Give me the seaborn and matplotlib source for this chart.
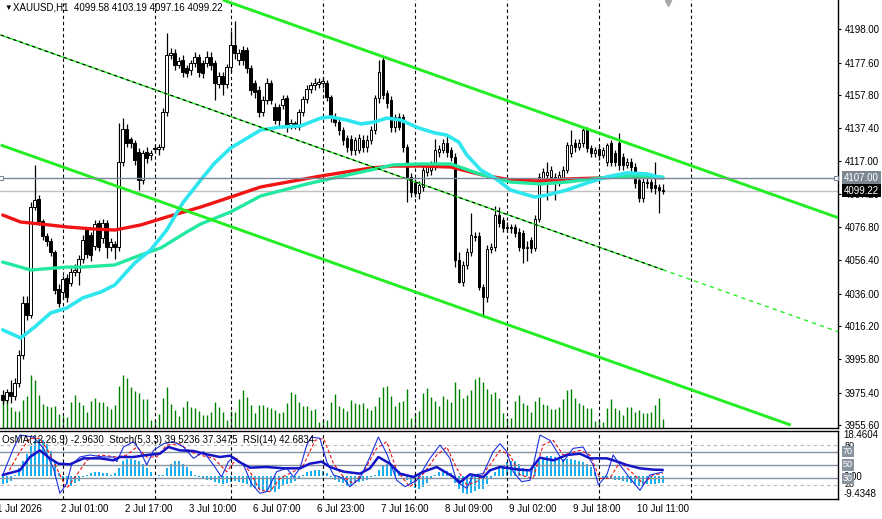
import numpy as np
import matplotlib
matplotlib.use("Agg")
import matplotlib.pyplot as plt
import matplotlib.transforms as mtransforms
import seaborn as sns

sns.set_theme(style="white")
plt.rcParams['font.family'] = ['Liberation Sans', 'DejaVu Sans']
plt.rcParams['axes.linewidth'] = 0.8

# ---------------- XAUUSD H1 bars ----------------
opens = [3973.9, 3970.9, 3975.8, 3973.3, 3981.3, 3998.4, 4030.3, 4023.0, 4089.1, 4094.0,
         4080.5, 4071.4, 4068.3, 4061.6, 4038.9, 4037.0, 4045.6, 4042.5, 4049.3, 4049.3,
         4057.3, 4075.6, 4072.0, 4065.2, 4079.3, 4070.1, 4079.3, 4064.6, 4066.5, 4064.6,
         4116.7, 4136.9, 4130.8, 4128.3, 4122.8, 4105.7, 4122.8, 4121.0, 4124.6, 4124.6,
         4125.9, 4147.3, 4182.3, 4183.5, 4176.1, 4179.2, 4174.3, 4173.1, 4177.3, 4181.0,
         4177.3, 4177.3, 4181.0, 4177.3, 4164.5, 4169.4, 4164.5, 4174.9, 4188.4, 4179.2,
         4185.3, 4185.3, 4174.3, 4165.1, 4160.8, 4147.3, 4154.7, 4165.1, 4150.4, 4150.4,
         4151.6, 4155.9, 4139.3, 4140.6, 4138.1, 4147.3, 4155.3, 4161.4, 4163.9, 4164.5,
         4165.1, 4165.1, 4156.5, 4144.3, 4141.2, 4136.3, 4131.4, 4130.8, 4124.0, 4124.0,
         4130.2, 4125.9, 4130.2, 4136.3, 4155.9, 4179.2, 4159.0, 4154.7, 4138.1, 4144.3,
         4144.3, 4126.0, 4107.5, 4103.8, 4097.7, 4101.4, 4110.6, 4111.8, 4114.8, 4122.8,
         4124.0, 4128.3, 4124.0, 4119.7, 4056.7, 4043.2, 4053.6, 4061.6, 4070.8, 4071.4,
         4040.1, 4034.0, 4063.4, 4064.6, 4084.2, 4081.2, 4076.3, 4076.9, 4076.9, 4073.8,
         4073.2, 4064.0, 4068.9, 4064.0, 4081.8, 4105.7, 4108.7, 4107.5, 4107.5, 4104.4,
         4106.9, 4111.8, 4122.2, 4128.3, 4125.9, 4128.3, 4136.3, 4125.3, 4122.2, 4124.6,
         4121.0, 4116.7, 4128.3, 4122.2, 4128.3, 4119.7, 4114.8, 4116.7, 4113.6, 4105.7,
         4094.6, 4104.4, 4104.4, 4102.6, 4101.4, 4099.58]
highs = [3977.0, 3977.6, 3983.2, 3984.4, 4001.5, 4034.6, 4034.6, 4092.0, 4114.8, 4096.4,
         4082.0, 4073.0, 4070.0, 4063.0, 4042.0, 4047.0, 4048.0, 4052.0, 4054.0, 4060.0,
         4072.0, 4077.0, 4074.0, 4081.0, 4081.0, 4082.0, 4081.0, 4070.0, 4068.0, 4140.6,
         4143.7, 4140.0, 4132.0, 4130.0, 4125.0, 4124.0, 4126.0, 4124.0, 4127.0, 4128.0,
         4150.0, 4195.7, 4186.5, 4186.0, 4181.0, 4182.0, 4176.0, 4179.0, 4184.0, 4183.0,
         4179.0, 4185.0, 4184.0, 4179.0, 4172.0, 4172.0, 4177.0, 4197.0, 4203.0, 4186.0,
         4188.0, 4187.0, 4176.0, 4167.0, 4163.0, 4157.0, 4168.0, 4167.0, 4153.0, 4152.0,
         4158.0, 4158.0, 4143.0, 4142.0, 4149.0, 4157.0, 4164.0, 4166.0, 4168.0, 4168.0,
         4168.5, 4167.0, 4158.0, 4147.0, 4143.0, 4138.0, 4133.0, 4133.0, 4132.0, 4134.0,
         4133.0, 4133.0, 4139.0, 4158.0, 4179.2, 4181.0, 4161.0, 4157.0, 4146.0, 4147.0,
         4146.0, 4128.0, 4110.0, 4106.0, 4105.0, 4114.0, 4116.0, 4117.0, 4130.8, 4127.0,
         4131.0, 4133.2, 4126.0, 4122.0, 4061.6, 4056.0, 4064.0, 4085.4, 4074.0, 4074.0,
         4042.0, 4066.0, 4067.0, 4090.0, 4089.0, 4083.0, 4080.0, 4079.0, 4079.0, 4076.0,
         4075.0, 4068.0, 4071.0, 4084.0, 4110.0, 4113.0, 4116.7, 4114.0, 4110.0, 4111.0,
         4114.0, 4129.0, 4136.3, 4131.0, 4131.0, 4137.5, 4138.0, 4127.0, 4126.0, 4127.0,
         4126.0, 4128.3, 4130.0, 4124.0, 4134.5, 4122.0, 4119.0, 4119.0, 4116.0, 4108.0,
         4107.0, 4107.0, 4106.0, 4116.7, 4103.0, 4103.19]
lows = [3968.4, 3969.0, 3969.0, 3971.0, 3979.0, 3996.0, 4019.9, 4021.1, 4087.3, 4078.1,
        4069.0, 4065.0, 4059.0, 4036.0, 4028.0, 4033.0, 4031.0, 4041.0, 4047.0, 4041.3,
        4055.0, 4058.0, 4056.0, 4063.0, 4062.0, 4067.0, 4058.0, 4062.0, 4057.3, 4062.0,
        4114.0, 4126.0, 4125.0, 4115.0, 4099.5, 4103.0, 4116.0, 4118.0, 4122.0, 4121.0,
        4124.0, 4145.0, 4180.0, 4173.0, 4174.0, 4169.0, 4168.8, 4170.0, 4175.0, 4168.8,
        4168.0, 4175.0, 4173.0, 4154.7, 4162.0, 4158.0, 4162.0, 4172.0, 4180.0, 4176.0,
        4176.0, 4171.0, 4158.0, 4156.0, 4144.0, 4145.0, 4152.0, 4152.0, 4140.0, 4137.5,
        4149.0, 4135.0, 4137.0, 4137.0, 4136.0, 4145.0, 4153.0, 4159.0, 4161.0, 4162.0,
        4162.0, 4154.0, 4141.0, 4139.0, 4133.0, 4127.0, 4123.0, 4121.0, 4121.0, 4122.0,
        4123.0, 4123.0, 4128.0, 4134.0, 4153.0, 4155.0, 4150.0, 4135.0, 4135.0, 4136.0,
        4123.0, 4092.2, 4095.0, 4095.0, 4094.0, 4099.0, 4108.0, 4109.0, 4112.0, 4120.0,
        4122.0, 4120.0, 4117.0, 4052.3, 4042.5, 4041.0, 4051.0, 4059.0, 4068.0, 4038.0,
        4021.7, 4031.0, 4061.0, 4062.0, 4077.0, 4074.0, 4074.0, 4073.0, 4071.0, 4062.0,
        4054.8, 4056.0, 4061.0, 4062.0, 4080.0, 4103.0, 4093.4, 4105.0, 4093.4, 4102.0,
        4105.0, 4110.0, 4120.0, 4123.0, 4124.0, 4126.0, 4123.0, 4120.0, 4120.0, 4118.0,
        4119.0, 4114.0, 4114.0, 4114.0, 4112.0, 4112.0, 4113.0, 4111.0, 4101.0, 4092.0,
        4092.0, 4101.0, 4098.0, 4097.0, 4085.4, 4097.16]
closes = [3970.9, 3975.8, 3973.3, 3981.3, 3998.4, 4030.3, 4023.0, 4089.1, 4093.4, 4080.5,
          4071.4, 4068.3, 4061.6, 4038.3, 4030.3, 4045.0, 4034.0, 4049.3, 4050.5, 4057.3,
          4068.9, 4060.3, 4059.7, 4078.7, 4064.6, 4079.3, 4064.6, 4067.7, 4064.6, 4116.7,
          4136.9, 4128.3, 4128.3, 4117.9, 4105.7, 4122.2, 4119.1, 4122.2, 4124.8, 4125.9,
          4147.3, 4182.3, 4183.5, 4176.1, 4178.6, 4171.8, 4171.2, 4177.3, 4181.0, 4171.8,
          4171.2, 4181.0, 4176.1, 4165.1, 4169.4, 4164.5, 4174.9, 4188.4, 4183.5, 4183.5,
          4179.2, 4174.3, 4160.8, 4159.6, 4147.3, 4154.7, 4165.1, 4154.7, 4142.4, 4142.4,
          4155.3, 4138.1, 4140.6, 4139.3, 4147.3, 4155.3, 4161.4, 4163.9, 4165.1, 4165.7,
          4166.5, 4156.5, 4144.3, 4141.2, 4136.3, 4130.2, 4126.0, 4124.0, 4130.2, 4131.4,
          4125.9, 4130.2, 4136.3, 4155.9, 4171.8, 4157.7, 4152.8, 4138.1, 4144.3, 4138.1,
          4126.0, 4107.5, 4098.3, 4097.7, 4102.6, 4111.8, 4113.6, 4114.8, 4124.0, 4124.6,
          4128.3, 4122.8, 4119.7, 4056.7, 4043.2, 4053.6, 4061.6, 4072.0, 4071.4, 4040.1,
          4034.0, 4063.4, 4064.6, 4084.2, 4079.3, 4076.3, 4076.9, 4076.3, 4073.2, 4064.6,
          4064.0, 4064.3, 4064.0, 4081.8, 4107.5, 4110.6, 4110.6, 4111.8, 4103.8, 4108.7,
          4111.8, 4127.1, 4127.1, 4125.9, 4128.3, 4136.3, 4125.3, 4122.2, 4124.0, 4121.0,
          4124.0, 4127.1, 4116.7, 4116.7, 4114.8, 4114.8, 4116.7, 4113.6, 4103.8, 4094.6,
          4104.4, 4104.0, 4100.8, 4100.8, 4099.5, 4099.22]
volumes = [85, 80, 63, 52, 52, 85, 97, 160, 145, 100,
           73, 67, 64, 67, 43, 37, 33, 77, 100, 77,
           70, 49, 82, 90, 79, 79, 67, 57, 70, 127,
           160, 150, 124, 112, 105, 87, 87, 25, 25, 43,
           90, 124, 73, 54, 37, 64, 82, 64, 59, 51,
           40, 40, 49, 79, 64, 49, 25, 52, 49, 87,
           115, 94, 70, 46, 70, 70, 63, 59, 55, 45,
           47, 76, 109, 103, 79, 65, 65, 55, 57, 19,
           25, 25, 79, 103, 67, 61, 51, 85, 76, 72,
           75, 60, 55, 67, 94, 124, 127, 97, 67, 79,
           82, 118, 31, 43, 52, 106, 121, 94, 82, 67,
           97, 88, 79, 139, 118, 91, 100, 115, 148, 154,
           139, 118, 103, 109, 91, 46, 31, 31, 82, 100,
           76, 70, 49, 82, 94, 73, 70, 58, 58, 64,
           88, 115, 118, 91, 76, 70, 61, 61, 22, 25,
           19, 61, 88, 61, 55, 40, 64, 64, 49, 55,
           46, 46, 49, 70, 91, 28]

# moving averages, sampled along the bars
fast_ma_bar = [0, 4.5, 8, 12, 16, 20, 24.5, 28, 33, 37, 41, 45, 49.5, 53, 57, 64.5, 69.5, 74.5,
               79.5, 82, 86, 89.5, 93, 96, 99.5, 104, 108, 111, 114, 116, 119.5, 123, 127, 133,
               136, 141, 146, 151, 156, 161, 165]
fast_ma = [4013.8, 4008.9, 4015.6, 4024.2, 4027.2, 4033.4, 4037.0, 4041.3, 4054.8, 4062.8,
           4075.0, 4091.6, 4105.7, 4116.1, 4125.3, 4136.3, 4138.1, 4138.8, 4143.6, 4144.3,
           4142.4, 4140.0, 4141.2, 4143.6, 4142.4, 4137.5, 4134.5, 4133.2, 4128.9, 4121.0,
           4111.8, 4106.9, 4099.5, 4095.2, 4096.4, 4099.5, 4103.8, 4107.5, 4110.0, 4109.4,
           4106.9]
mid_ma_bar = [0, 7, 16, 20, 28, 34.5, 39.5, 46, 49.5, 57, 64.5, 77, 92, 97.5, 104.5, 112,
              120, 127, 134.5, 141, 149.5, 157.5, 165]
mid_ma = [4055.4, 4050.5, 4052.3, 4052.3, 4053.6, 4059.7, 4064.0, 4073.8, 4078.7, 4086.1,
          4095.9, 4103.8, 4111.8, 4114.9, 4115.5, 4115.5, 4108.7, 4104.4, 4103.2, 4104.4,
          4106.9, 4108.1, 4107.5]
slow_ma_bar = [0, 4.5, 9.5, 16, 23, 28, 34.5, 41, 49.5, 57, 64.5, 79.5, 92, 97.5, 104.5, 112,
               120, 127, 134.5, 141, 149.5, 157.5, 165]
slow_ma = [4084.2, 4079.9, 4078.7, 4076.9, 4075.6, 4075.0, 4078.1, 4083.0, 4089.1, 4095.2,
           4101.4, 4108.1, 4113.0, 4114.2, 4114.2, 4113.6, 4108.7, 4105.7, 4105.0, 4106.3,
           4106.9, 4108.1, 4106.9]

# channel (trend lines), anchor points
chan_top_bar = [55, 209]
chan_top = [4216.0, 4082.4]
chan_mid_bar = [-0.5, 165, 209]
chan_mid = [4194.5, 4050.7, 4012.5]
chan_low_bar = [-0.5, 197]
chan_low = [4127.1, 3955.5]

hline_level = 4107.00
bid = 4099.22
price_ticks = [4198.00, 4177.60, 4157.80, 4137.40, 4117.00, 4097.20, 4076.80,
               4056.40, 4036.00, 4016.20, 3995.80, 3975.40, 3955.60]

# indicator window
osma = [-3.5, -3.0, -2.0, 0.5, 3.0, 6.0, 9.0, 12.0, 14.0, 15.0,
        14.5, 13.0, 10.0, 6.0, 1.0, -2.0, -3.5, -4.0, -3.0, -2.0,
        -0.5, 0.5, 1.0, 1.5, 1.5, 1.0, 1.0, 0.5, 1.0, 3.0,
        6.0, 7.0, 7.0, 6.5, 6.0, 5.0, 3.0, 1.5, 0.0, 0.2,
        0.5, 3.0, 5.0, 6.0, 6.0, 5.0, 3.5, 2.0, 0.5, -0.5,
        -1.0, -1.5, -1.8, -2.5, -3.0, -3.5, -3.0, -2.5, -2.0, -2.5,
        -3.0, -3.5, -4.5, -5.0, -5.5, -6.0, -6.5, -6.0, -6.5, -5.5,
        -4.0, -3.5, -3.0, -2.0, -1.0, 0.5, 1.5, 2.0, 2.5, 2.5,
        2.0, 1.0, -0.5, -1.5, -2.5, -3.0, -4.0, -4.0, -3.0, -2.5,
        -2.0, -1.5, -0.5, 0.5, 2.5, 4.5, 5.0, 4.0, 3.0, 2.0,
        1.0, -1.5, -3.5, -5.0, -5.5, -4.5, -3.0, -1.0, 0.5, 1.5,
        2.0, 2.0, 1.0, -3.0, -5.5, -7.0, -7.5, -7.0, -6.0, -5.5,
        -5.5, -3.5, -1.0, 1.5, 3.0, 4.5, 5.5, 6.0, 6.0, 5.0,
        3.0, 2.0, 2.0, 3.5, 6.0, 7.5, 8.0, 8.0, 7.5, 7.0,
        7.0, 7.0, 7.0, 6.5, 6.0, 5.5, 5.0, 3.5, 1.5, -0.5,
        -1.0, -1.0, -1.0, -1.5, -1.5, -2.0, -2.5, -3.0, -3.5, -4.0,
        -4.0, -3.5, -3.5, -3.5, -3.0, -2.963]
stoch_bar = [0, 1.0, 2.7, 4.3, 7.7, 10.2, 12.7, 14.3, 16.0, 17.2, 19.3, 21.8, 25.2, 27.7, 28.5,
             30.2, 32.7, 34.3, 36.0, 37.7, 40.2, 42.7, 45.2, 47.7, 50.2, 52.7, 54.7, 56.4, 57.7,
             60.2, 62.2, 64.3, 66.0, 68.5, 71.0, 72.7, 74.3, 76.0, 77.2, 79.3, 81.0, 82.7, 85.2,
             86.8, 89.3, 91.8, 93.9, 96.0, 98.5, 100.6, 103.5, 106.8,
             109.3, 111.8, 113.5, 116.0, 117.6, 120.1, 122.6, 124.3, 126.0, 127.6, 129.7, 131.8,
             134.3, 136.8, 140.1, 142.6, 145.1, 147.6, 148.9, 151.0, 152.6, 154.3, 156.8, 159.3,
             161.8, 165]
stoch_main = [35, 50, 75, 95, 92, 75, 45, 7.5, 22, 50, 62, 65, 62, 62, 55, 77, 85, 72, 50, 72,
              82, 85, 77, 60, 70, 50, 32, 55, 62, 50, 22, 7.5, 10, 40, 45, 32, 45, 80, 92, 90,
              55, 35, 30, 17.5, 30, 62, 92, 67, 27, 17.5, 27, 60,
              80, 60, 25, 15, 35, 37, 70, 82, 70, 40, 25, 27, 95, 87, 55, 75, 77, 50, 20, 35,
              65, 50, 30, 12, 35, 39.5236]
signal_bar = [1.0, 4.3, 6.8, 9.3, 11.8, 14.3, 16.0, 18.5, 21.0, 24.3, 28.5, 31.0, 33.5, 36.0,
              38.5, 41.0, 44.3, 46.8, 49.3, 52.7, 56.0, 58.5, 61.8, 64.3, 66.8, 69.3, 72.7, 75.2,
              78.1, 80.2, 82.7, 85.2, 87.7, 90.2, 93.5, 96.0, 98.5, 101.8, 105.2, 108.5,
              111.0, 113.5, 116.0, 118.5, 121.8, 124.3, 126.8, 129.3, 132.6, 135.1, 137.6, 140.1,
              144.3, 146.8, 149.3, 151.8, 154.3, 157.6, 160.1, 162.6, 165]
stoch_signal = [35, 70, 90, 90, 67, 35, 15, 35, 57, 65, 62, 65, 77, 62, 62, 80, 82, 70, 65, 60,
                40, 60, 40, 12, 10, 30, 40, 50, 87, 90, 52, 32, 22, 40, 75, 85, 42, 17, 37, 65,
                77, 45, 20, 25, 50, 72, 65, 35, 30, 80, 87, 65, 72, 65, 30, 30, 55, 37, 22, 35,
                37.3475]
rsi_bar = [0, 4.3, 6.8, 9.3, 11.8, 13.9, 16.8, 20.2, 24.3, 27.7, 29.3, 32.7, 36, 39.3, 41.4,
           44.3, 47.7, 51, 54.3, 56.8, 59.3, 61.8, 66, 70.2, 74.3, 76.8, 79.7, 81.8, 85.2, 89.3,
           91.8, 93.9, 96.8, 99.3, 102.7, 105.2, 108.5,
           112.7, 114.3, 116.8, 120.2, 121.8, 124.3, 129.3, 131.8, 134.3, 137.7, 141, 144.3,
           146.8, 151, 152.7, 156, 159.3, 162.7, 165]
rsi = [35, 42, 62, 72, 60, 52, 51, 60, 60, 57, 62, 62, 65, 67, 77, 72, 71, 66, 62, 64,
       54, 46, 47, 45, 45, 52, 55, 47, 40, 37, 45, 62, 52, 37, 32, 40, 47,
       32, 24, 36, 32, 42, 47, 43, 42, 61, 57, 65, 67, 60, 60, 57, 50, 45, 43, 42.6834]
levels = [80, 70, 50, 30, 20]

day_sep = [15, 38, 57, 80, 103, 126, 149, 172]
xlab_bar = [-1, 15, 31, 47, 63, 79, 95, 111, 127, 143, 159]
xlab_text = ["1 Jul 2026", "2 Jul 01:00", "2 Jul 17:00", "3 Jul 10:00", "6 Jul 07:00",
             "6 Jul 23:00", "7 Jul 16:00", "8 Jul 09:00", "9 Jul 02:00", "9 Jul 18:00",
             "10 Jul 11:00"]

# ---------------- figure ----------------
W, H = 882, 519
fig = plt.figure(figsize=(W / 100, H / 100), dpi=100)
fig.patch.set_facecolor('white')

ax = fig.add_axes([0, 1 - 428 / H, 838 / W, 428 / H])
axv = ax.twinx()
ax.set_zorder(axv.get_zorder() + 1)
ax.patch.set_visible(False)

xlim = (-0.675, 208.8)
ax.set_xlim(*xlim)
ax.set_ylim(3953.7, 4215.95)
axv.set_ylim(0, 1284)

bars = np.arange(len(closes))
o = np.array(opens)
c = np.array(closes)
rise = c >= o
body_lo = np.minimum(o, c)
body_h = np.maximum(np.abs(c - o), 0.5)

# volumes + day separators on the back layer
axv.vlines(bars, 0, volumes, color='#008000', lw=1.0)
for b in day_sep:
    axv.axvline(b, color='black', lw=0.8, ls=(0, (3, 2.5)))
axv.set_yticks([])
for s in axv.spines.values():
    s.set_visible(False)

# candles
ax.vlines(bars, lows, highs, color='black', lw=0.9, zorder=3)
ax.bar(bars[rise], body_h[rise], bottom=body_lo[rise], width=0.62,
       facecolor='white', edgecolor='black', linewidth=0.7, zorder=4)
ax.bar(bars[~rise], body_h[~rise], bottom=body_lo[~rise], width=0.62,
       facecolor='black', edgecolor='black', linewidth=0.7, zorder=4)

# moving averages
sns.lineplot(x=slow_ma_bar, y=slow_ma, ax=ax, color='#f01414', lw=2.4, estimator=None, sort=False, zorder=5)
sns.lineplot(x=mid_ma_bar, y=mid_ma, ax=ax, color='#22e8a0', lw=2.4, estimator=None, sort=False, zorder=5)
sns.lineplot(x=fast_ma_bar, y=fast_ma, ax=ax, color='#2ee6ee', lw=2.6, estimator=None, sort=False, zorder=5)

# channel
ax.plot(chan_top_bar, chan_top, color='#22ee22', lw=2.1, zorder=6, solid_capstyle='butt')
ax.plot(chan_low_bar, chan_low, color='#22ee22', lw=2.1, zorder=6, solid_capstyle='butt')
ax.plot(chan_mid_bar[:2], chan_mid[:2], color='#22ee22', lw=1.0, zorder=6)
ax.plot(chan_mid_bar[:2], chan_mid[:2], color='black', lw=0.8, ls=(0, (3, 3)), zorder=6)
ax.plot(chan_mid_bar[1:], chan_mid[1:], color='#22ee22', lw=1.0, ls=(0, (3, 3)), zorder=6)

# horizontal line object and bid line
ax.axhline(hline_level, color='#7a889a', lw=1.0, zorder=6)
ax.plot([-0.35, 208.2], [hline_level, hline_level], ls='none', marker='s', ms=3.5,
        mfc='white', mec='#7a889a', mew=0.8, zorder=7, clip_on=False)
ax.axhline(bid, color='#c0c0c0', lw=1.0, zorder=2)
ax.plot([166.3], [4214.2], marker='v', color='#a8a8a8', ms=5, ls='none', zorder=7, clip_on=False)

# right price scale
ax.yaxis.tick_right()
ax.set_yticks(price_ticks)
ax.set_yticklabels([f"{t:.2f}" for t in price_ticks])
ax.tick_params(axis='y', which='both', right=True, left=False, length=2.2, width=0.8,
               pad=2.5, labelsize=7, colors='black', direction='out')
ax.set_xticks([])
ax.tick_params(axis='x', bottom=False, labelbottom=False)
ax.grid(False)
axv.grid(False)
for side in ['top', 'left']:
    ax.spines[side].set_visible(False)
for side in ['right', 'bottom']:
    ax.spines[side].set_color('black')
    ax.spines[side].set_linewidth(1.0)

tr = mtransforms.blended_transform_factory(ax.transAxes, ax.transData)
ax.text(1 + 6 / 838, hline_level, f"{hline_level:.2f}", transform=tr, ha='left', va='center',
        fontsize=7, color='white', zorder=10, clip_on=False,
        bbox=dict(boxstyle='square,pad=0.2', fc='#7d8792', ec='none'))
ax.text(1 + 6 / 838, bid, f"{bid:.2f}", transform=tr, ha='left', va='center',
        fontsize=7, color='white', zorder=10, clip_on=False,
        bbox=dict(boxstyle='square,pad=0.2', fc='black', ec='none'))

fig.text(4.5 / W, 1 - 8 / H, "\u25bc", fontsize=5.5, ha='left', va='center', color='black')
fig.text(13 / W, 1 - 8 / H, f"{'XAUUSD,H1'}  " + " ".join(f"{v:.2f}" for v in [opens[-1], highs[-1], lows[-1], closes[-1]]),
         fontsize=7, ha='left', va='center', color='black')

# ---------------- indicator window ----------------
ax2 = fig.add_axes([0, 1 - 499 / H, 838 / W, 68.5 / H])
ax3 = ax2.twinx()
ax2.set_zorder(ax3.get_zorder() + 1)
ax2.patch.set_visible(False)
ax2.set_xlim(*xlim)
ax2.set_ylim(-1.05, 101.8)
ax3.set_ylim(-9.4348, 18.4604)

ax3.bar(bars, osma, width=0.5, color='#1eb0ee', linewidth=0)
for s in ax3.spines.values():
    s.set_visible(False)
ax3.set_yticks([18.4604, 0.0, -9.4348])
ax3.set_yticklabels(["18.4604", "0.00", "-9.4348"])
ax3.tick_params(axis='y', right=True, length=0, pad=4, labelsize=7, colors='black')
tl = ax3.get_yticklabels()
tl[0].set_va('top')
tl[2].set_va('bottom')
ax3.grid(False)

for lv in levels:
    if lv in (80, 20):
        ax2.axhline(lv, color='#b8b8b8', lw=0.8, ls=(0, (3, 3)))
    else:
        ax2.axhline(lv, color='#8592a0', lw=1.0)
for b in day_sep:
    ax2.axvline(b, color='black', lw=0.8, ls=(0, (3, 2.5)))

sns.lineplot(x=signal_bar, y=stoch_signal, ax=ax2, color='#f01010', lw=0.8, ls=(0, (3, 2)),
             estimator=None, sort=False)
sns.lineplot(x=stoch_bar, y=stoch_main, ax=ax2, color='#1c2fe0', lw=0.8, estimator=None, sort=False)
sns.lineplot(x=rsi_bar, y=rsi, ax=ax2, color='#1414c8', lw=1.8, estimator=None, sort=False)

ax2.set_yticks([])
ax2.set_xticks([])
ax2.grid(False)
ax2.spines['left'].set_visible(False)
for side in ['top', 'right', 'bottom']:
    ax2.spines[side].set_color('black')
    ax2.spines[side].set_linewidth(1.0)

tr2 = mtransforms.blended_transform_factory(ax2.transAxes, ax2.transData)
for lv in levels:
    if lv in (80, 20):
        ax2.text(1 + 7 / 838, lv, str(lv), transform=tr2, ha='left', va='center', fontsize=6.5,
                 color='black', clip_on=False, zorder=9)
    else:
        ax2.text(1 + 5 / 838, lv, str(lv), transform=tr2, ha='left', va='center', fontsize=6.5,
                 color='white', clip_on=False, zorder=10,
                 bbox=dict(boxstyle='square,pad=0.12', fc='#8a949f', ec='none'))

ax2.text(2 / 838, 0.86, "OsMA(12,26,9) -2.9630  Stoch(5,3,3) 39.5236 37.3475  RSI(14) 42.6834",
         transform=ax2.transAxes, ha='left', va='center', fontsize=7, color='black', zorder=12)

trx = mtransforms.blended_transform_factory(ax2.transData, ax2.transAxes)
for b, lab in zip(xlab_bar, xlab_text):
    ax2.text(b - 0.4, -0.07, lab, transform=trx, ha='left', va='top', fontsize=7,
             color='black', clip_on=False)

fig.savefig('out.png', dpi=100)
